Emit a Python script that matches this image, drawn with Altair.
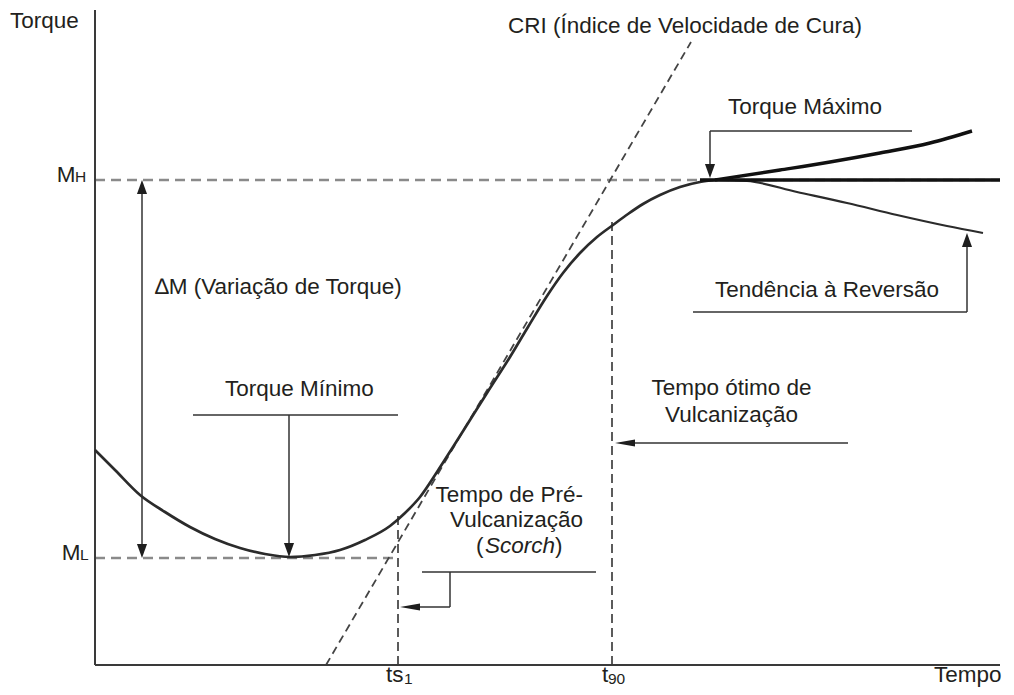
import altair as alt
import pandas as pd

# ---------------- data (chart units: time t, torque T) ----------------
curve_t = [0, 2, 4.5, 7, 9.5, 12, 14.5, 17, 19.5, 22, 24.5, 27, 29.5, 31, 32.5, 34.2,
           35.8, 37.5, 39.2, 41.5, 43.3, 45.2, 46.8, 48.5, 50.2, 51.8, 53.3, 54.8,
           56.5, 58.5, 60.5, 62]
curve_T = [21.5, 19.5, 17.0, 15.3, 13.8, 12.6, 11.7, 11.1, 10.8, 11.0, 11.5, 12.5, 13.9,
           15.2, 16.8, 19.3, 21.8, 24.5, 27.2, 30.8, 33.8, 36.9, 39.2, 41.2, 42.8, 44.0,
           45.1, 46.1, 47.0, 47.8, 48.3, 48.5]

rise_t = [62, 68.5, 73.5, 78.5, 83.5, 87.7]
rise_T = [48.5, 49.5, 50.3, 51.2, 52.2, 53.4]
flat_t = [60.5, 90.5]
flat_T = [48.5, 48.5]
fall_t = [62, 65.2, 70.2, 75.2, 80.2, 85.2, 88.8]
fall_T = [48.5, 48.4, 47.3, 46.2, 45.0, 43.9, 43.2]

MH = 48.5
ML = 10.7
TS1 = 30.3
T90 = 51.7
T_MAX_AXIS = 65.5
X_MAX_AXIS = 90.5
CRI_t = [23.1, 59.6]
CRI_T = [0.0, 62.3]

xs = alt.Scale(domain=[0, X_MAX_AXIS], range=[87, 992], nice=False, zero=False)
ys = alt.Scale(domain=[0, T_MAX_AXIS], range=[657, 2], nice=False, zero=False)
X = lambda f: alt.X(f, type="quantitative", scale=xs, axis=None)
Y = lambda f: alt.Y(f, type="quantitative", scale=ys, axis=None)
X2 = lambda f: alt.X2(f)
Y2 = lambda f: alt.Y2(f)

# ---------------- segments ----------------
seg_rows = [
    # axes
    dict(x=0, y=0, x2=0, y2=T_MAX_AXIS, s="axis"),
    dict(x=0, y=0, x2=X_MAX_AXIS, y2=0, s="axis"),
    # grey dashed reference levels
    dict(x=0, y=MH, x2=X_MAX_AXIS, y2=MH, s="grey"),
    dict(x=0, y=ML, x2=30.0, y2=ML, s="grey"),
    # dark dashed
    dict(x=TS1, y=0, x2=TS1, y2=15.3, s="dark"),
    dict(x=T90, y=0, x2=T90, y2=44.3, s="dark"),
    dict(x=CRI_t[0], y=CRI_T[0], x2=CRI_t[1], y2=CRI_T[1], s="cri"),
    # annotation leader lines
    dict(x=4.7, y=ML + 1.0, x2=4.7, y2=MH - 1.0, s="thin"),
    dict(x=9.8, y=25.0, x2=30.3, y2=25.0, s="thin"),
    dict(x=19.4, y=25.0, x2=19.4, y2=12.0, s="thin"),
    dict(x=61.5, y=53.4, x2=81.7, y2=53.4, s="thin"),
    dict(x=61.5, y=53.4, x2=61.5, y2=50.0, s="thin"),
    dict(x=59.8, y=35.3, x2=87.2, y2=35.3, s="thin"),
    dict(x=87.2, y=35.3, x2=87.2, y2=42.0, s="thin"),
    dict(x=75.3, y=22.2, x2=53.5, y2=22.2, s="thin"),
    dict(x=32.7, y=9.3, x2=50.1, y2=9.3, s="thin"),
    dict(x=35.5, y=9.3, x2=35.5, y2=5.8, s="thin"),
    dict(x=35.5, y=5.8, x2=32.0, y2=5.8, s="thin"),
]
segs = pd.DataFrame(seg_rows)

def rules(style, color, width, dash=None):
    kw = dict(color=color, strokeWidth=width)
    if dash:
        kw["strokeDash"] = dash
    return alt.Chart(segs[segs.s == style]).mark_rule(**kw).encode(
        x=X("x"), y=Y("y"), x2=X2("x2"), y2=Y2("y2"))

axes = rules("axis", "#3a3a3a", 2)
grey = rules("grey", "#8a8a8a", 2.6, [10, 6])
dark = rules("dark", "#333333", 1.6, [9, 5])
cri = rules("cri", "#444444", 1.8, [8, 5])
thin = rules("thin", "#333333", 1.5)

# ---------------- curves ----------------
def line(ts, Ts, width, color):
    df = pd.DataFrame({"x": ts, "y": Ts})
    return alt.Chart(df).mark_line(interpolate="monotone", color=color,
                                   strokeWidth=width).encode(x=X("x"), y=Y("y"))

main = line(curve_t, curve_T, 2.7, "#2b2b2b")
rise = line(rise_t, rise_T, 3.4, "#111111")
flat = line(flat_t, flat_T, 3.6, "#111111")
fall = line(fall_t, fall_T, 2.2, "#2b2b2b")

# ---------------- arrowheads ----------------
down_path = "M0,0 L-0.36,-1 L0.36,-1 Z"
up_path = "M0,0 L-0.36,1 L0.36,1 Z"
left_path = "M0,0 L1,-0.18 L1,0.18 Z"

heads = pd.DataFrame([
    dict(x=4.7, y=ML, k="down"),
    dict(x=4.7, y=MH, k="up"),
    dict(x=19.4, y=10.8, k="down"),
    dict(x=61.5, y=48.7, k="down"),
    dict(x=87.2, y=43.2, k="up"),
    dict(x=52.0, y=22.2, k="left"),
    dict(x=30.5, y=5.8, k="left"),
])

def head(kind, path, size):
    return alt.Chart(heads[heads.k == kind]).mark_point(
        shape=path, filled=True, color="#1e1e1e", opacity=1, size=size, strokeWidth=0
    ).encode(x=X("x"), y=Y("y"))

hd = head("down", down_path, 784)
hu = head("up", up_path, 784)
hl = head("left", left_path, 1600)

# ---------------- texts ----------------
FONT = "Liberation Sans"
BIG = 22.5
SMALL = 15.5

texts = pd.DataFrame([
    dict(x=-8.5, y=63.75, t="Torque", a="left", fs=BIG, st="normal"),
    dict(x=41.3, y=63.2, t="CRI (Índice de Velocidade de Cura)", a="left", fs=BIG, st="normal"),
    dict(x=71.0, y=55.1, t="Torque Máximo", a="center", fs=BIG, st="normal"),
    dict(x=73.2, y=36.8, t="Tendência à Reversão", a="center", fs=BIG, st="normal"),
    dict(x=6.0, y=37.1, t="∆M (Variação de Torque)", a="left", fs=BIG, st="normal"),
    dict(x=13.0, y=26.9, t="Torque Mínimo", a="left", fs=BIG, st="normal"),
    dict(x=63.65, y=27.0, t="Tempo ótimo de", a="center", fs=BIG, st="normal"),
    dict(x=63.65, y=24.3, t="Vulcanização", a="center", fs=BIG, st="normal"),
    dict(x=48.8, y=16.3, t="Tempo de Pré-", a="right", fs=BIG, st="normal"),
    dict(x=48.8, y=13.8, t="Vulcanização", a="right", fs=BIG, st="normal"),
    dict(x=38.1, y=11.2, t="(", a="left", fs=BIG, st="normal"),
    dict(x=39.0, y=11.2, t="Scorch", a="left", fs=BIG, st="italic"),
    dict(x=46.0, y=11.2, t=")", a="left", fs=BIG, st="normal"),
    dict(x=-3.83, y=48.3, t="M", a="left", fs=BIG, st="normal"),
    dict(x=-2.0, y=48.3, t="H", a="left", fs=SMALL, st="normal"),
    dict(x=-3.33, y=10.5, t="M", a="left", fs=BIG, st="normal"),
    dict(x=-1.5, y=10.5, t="L", a="left", fs=SMALL, st="normal"),
    dict(x=29.1, y=-1.7, t="ts", a="left", fs=BIG, st="normal"),
    dict(x=30.9, y=-1.9, t="1", a="left", fs=SMALL, st="normal"),
    dict(x=50.7, y=-1.7, t="t", a="left", fs=BIG, st="normal"),
    dict(x=51.3, y=-1.9, t="90", a="left", fs=SMALL, st="normal"),
    dict(x=83.9, y=-1.7, t="Tempo", a="left", fs=BIG, st="normal"),
])

def txt(align, style):
    d = texts[(texts.a == align) & (texts.st == style)]
    return alt.Chart(d).mark_text(
        align=align, baseline="alphabetic", font=FONT, fontStyle=style, color="#231f20"
    ).encode(x=X("x"), y=Y("y"), text="t:N", size=alt.Size("fs:Q", scale=None, legend=None))

tl = txt("left", "normal")
tc = txt("center", "normal")
tr = txt("right", "normal")
ti = txt("left", "italic")

chart = alt.layer(
    grey, dark, cri, axes, thin, main, fall, rise, flat, hd, hu, hl, tl, tc, tr, ti
).properties(
    width=998, height=679,
    autosize=alt.AutoSizeParams(type="none"),
    padding=0,
    background="white",
).configure_view(stroke=None)

chart.save("out.html", embed_options={"renderer": "svg", "actions": False})
